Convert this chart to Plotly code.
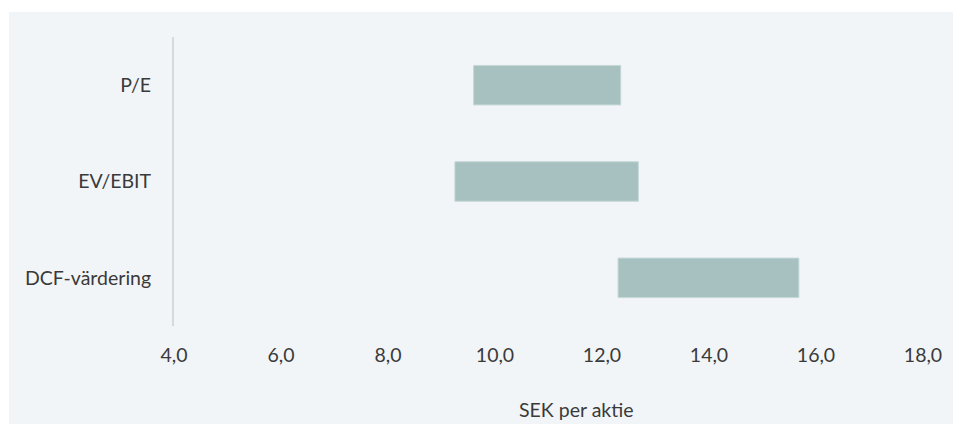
import plotly.graph_objects as go

categories = ["P/E", "EV/EBIT", "DCF-värdering"]
low_values = [9.6, 9.25, 12.3]
high_values = [12.35, 12.68, 15.68]
tick_values = [4, 6, 8, 10, 12, 14, 16, 18]
x_title = "SEK per aktie"

bar_color = "#a7c0c0"
bg_color = "#f2f5f7"
text_color = "#3a3a3a"
font_family = "Lato, Carlito, Calibri, sans-serif"
font_size = 19.5

widths = [h - l for l, h in zip(low_values, high_values)]

fig = go.Figure()
fig.add_trace(go.Bar(
    y=categories,
    x=widths,
    base=low_values,
    orientation="h",
    marker=dict(color=bar_color, line=dict(color="#c6d8d8", width=1)),
    width=0.41,
    hoverinfo="skip",
))

fig.update_layout(
    width=953,
    height=424,
    margin=dict(l=174, r=30, t=37, b=98),
    paper_bgcolor="white",
    plot_bgcolor=bg_color,
    separators=", ",
    showlegend=False,
    font=dict(family=font_family, size=font_size, color=text_color),
    xaxis=dict(
        range=[4, 18],
        tickvals=tick_values,
        tickformat=".1f",
        showgrid=False,
        zeroline=False,
        showline=False,
        ticks="outside",
        ticklen=12,
        tickcolor="rgba(0,0,0,0)",
        tickfont=dict(size=font_size, color=text_color),
        fixedrange=True,
    ),
    yaxis=dict(
        categoryorder="array",
        categoryarray=categories[::-1],
        range=[-0.5, 2.5],
        showgrid=False,
        zeroline=False,
        showline=True,
        linecolor="#d9d9d9",
        linewidth=2,
        ticks="outside",
        ticklen=17,
        tickcolor="rgba(0,0,0,0)",
        tickfont=dict(size=font_size, color=text_color),
        fixedrange=True,
    ),
    shapes=[dict(
        type="rect", xref="paper", yref="paper",
        x0=(9 - 174) / 749, x1=(953 - 174) / 749 + 0.01,
        y0=(326 - 430) / 289, y1=(326 - 12) / 289,
        fillcolor=bg_color, line=dict(width=0), layer="below",
    )],
    annotations=[dict(
        text=x_title, xref="paper", yref="paper",
        x=(576 - 174) / 749, y=(326 - 409) / 289,
        xanchor="center", yanchor="middle", showarrow=False,
        font=dict(size=font_size, color=text_color),
    )],
)

fig.write_html("out.html")
